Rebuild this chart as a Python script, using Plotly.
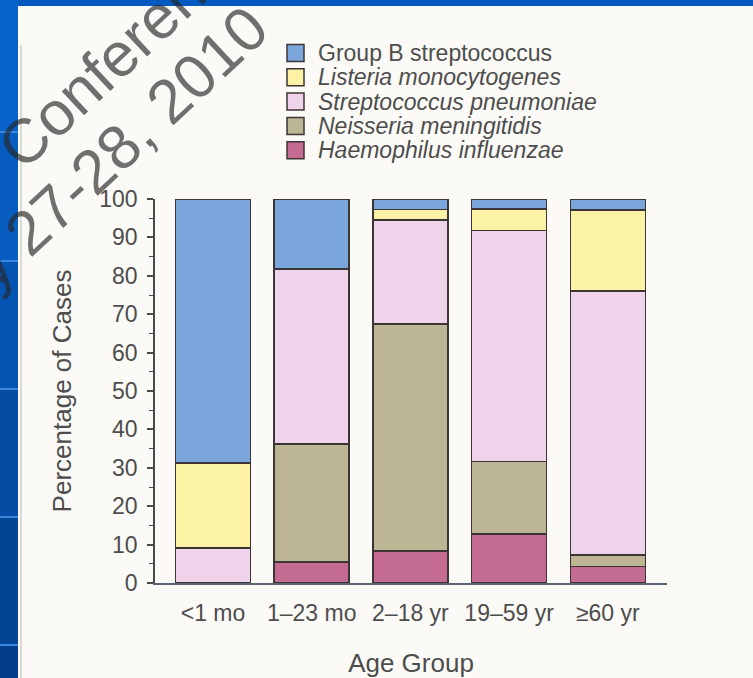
import plotly.graph_objects as go

W, H = 753, 678

categories = ["<1 mo", "1–23 mo", "2–18 yr", "19–59 yr", "≥60 yr"]
series_names = ["Haemophilus influenzae", "Neisseria meningitidis",
                "Streptococcus pneumoniae", "Listeria monocytogenes",
                "Group B streptococcus"]
hib = [0, 5.5, 8.3, 12.8, 4.3]
nm = [0, 30.7, 59.1, 18.9, 3.0]
sp = [9.1, 45.6, 27.1, 60.1, 68.7]
lm = [22.2, 0, 2.8, 5.6, 21.1]
gbs = [68.7, 18.2, 2.7, 2.6, 2.9]
series_values = [hib, nm, sp, lm, gbs]
series_colors = ["#c46b92", "#bcb694", "#eed3ea", "#fcf2a6", "#7ba6dc"]
italic = [True, True, True, True, False]
y_ticks = list(range(0, 101, 10))

FONT = "Liberation Sans, Arial, Helvetica, sans-serif"
TXT = "#4d4d4d"
OUTLINE = "#3d3535"

def px(x):
    return x / W

def py(y):
    return 1 - y / H

fig = go.Figure()
for name, vals, col in zip(series_names, series_values, series_colors):
    fig.add_trace(go.Bar(
        x=categories, y=vals, name=name, showlegend=False,
        marker=dict(color=col, line=dict(color=OUTLINE, width=1.5)),
    ))

shapes = []
# slide background panel
shapes.append(dict(type="rect", xref="paper", yref="paper", x0=px(18), x1=1.0,
                   y0=0, y1=py(6), fillcolor="#fbfaf6", line=dict(width=0), layer="below"))
# left strip bands (darkening)
bands = [(0, 132, "#0763c9"), (132, 261, "#065cbf"), (261, 389, "#0554b2"),
         (389, 517, "#044ca3"), (517, 645, "#034494"), (645, 678, "#033d88")]
for y0, y1, c in bands:
    shapes.append(dict(type="rect", xref="paper", yref="paper", x0=0, x1=px(18),
                       y0=py(y1), y1=py(y0), fillcolor=c, line=dict(width=0), layer="below"))
for yl in [132, 261, 389, 517, 645]:
    shapes.append(dict(type="line", xref="paper", yref="paper", x0=0, x1=px(18),
                       y0=py(yl), y1=py(yl), line=dict(color="#3a86e0", width=2), layer="below"))
# scan edge line
shapes.append(dict(type="line", xref="paper", yref="paper", x0=px(21), x1=px(21),
                   y0=0, y1=py(45), line=dict(color="#b8b8b8", width=1), layer="below"))

annotations = []
# manual legend (top to bottom: reversed stacking order)
leg_x0, leg_y0, leg_dy, sq = 287, 53, 24.3, 17
for i, (name, col, it) in enumerate(zip(series_names[::-1], series_colors[::-1], italic[::-1])):
    yc = leg_y0 + i * leg_dy
    shapes.append(dict(type="rect", xref="paper", yref="paper",
                       x0=px(leg_x0), x1=px(leg_x0 + sq),
                       y0=py(yc + sq / 2), y1=py(yc - sq / 2),
                       fillcolor=col, line=dict(color=OUTLINE, width=1.5)))
    annotations.append(dict(xref="paper", yref="paper", x=px(leg_x0 + 29), y=py(yc),
                            xanchor="left", yanchor="middle", showarrow=False,
                            text=f"<i>{name}</i>" if it else name,
                            font=dict(family=FONT, size=23, color=TXT)))

# watermark
wm_font = dict(family=FONT, size=62, color="rgba(40,40,40,0.66)")
annotations.append(dict(xref="paper", yref="paper", x=px(125), y=py(47), text="Conference",
                        textangle=-43, showarrow=False, font=wm_font,
                        xanchor="center", yanchor="middle"))
annotations.append(dict(xref="paper", yref="paper", x=px(118), y=py(147), text="y 27-28, 2010",
                        textangle=-43, showarrow=False, font=wm_font,
                        xanchor="center", yanchor="middle"))

fig.update_layout(
    width=W, height=H,
    margin=dict(l=0, r=0, t=0, b=0),
    paper_bgcolor="#0459c0",
    plot_bgcolor="rgba(0,0,0,0)",
    barmode="stack",
    bargap=0.24,
    showlegend=False,
    font=dict(family=FONT, color=TXT),
    shapes=shapes,
    annotations=annotations,
    xaxis=dict(
        domain=[px(155), px(667)], range=[-0.588, 4.6], type="category",
        showline=True, linecolor="#5a6470", linewidth=1.5, ticks="",
        showgrid=False, zeroline=False, automargin=False,
        tickfont=dict(family=FONT, size=23, color=TXT), ticklabelstandoff=9,
        title=dict(text="Age Group", font=dict(family=FONT, size=26, color=TXT), standoff=30),
    ),
    yaxis=dict(
        domain=[py(583), py(199)], range=[0, 100],
        showline=True, linecolor="#4a4a4a", linewidth=1.5,
        ticks="outside", ticklen=6, tickwidth=1.5, tickcolor="#4a4a4a",
        tickvals=y_ticks, ticktext=[str(v) for v in y_ticks],
        minor=dict(ticks="outside", ticklen=4, tickwidth=1.2, tickcolor="#4a4a4a", dtick=5),
        showgrid=False, zeroline=False, automargin=False,
        tickfont=dict(family=FONT, size=23, color=TXT), ticklabelstandoff=5,
        title=dict(text="Percentage of Cases", font=dict(family=FONT, size=26, color=TXT), standoff=20),
    ),
)

fig.write_html("out.html", config={"displayModeBar": False},
               post_script="document.body.style.margin='0';document.body.style.overflow='hidden';")
